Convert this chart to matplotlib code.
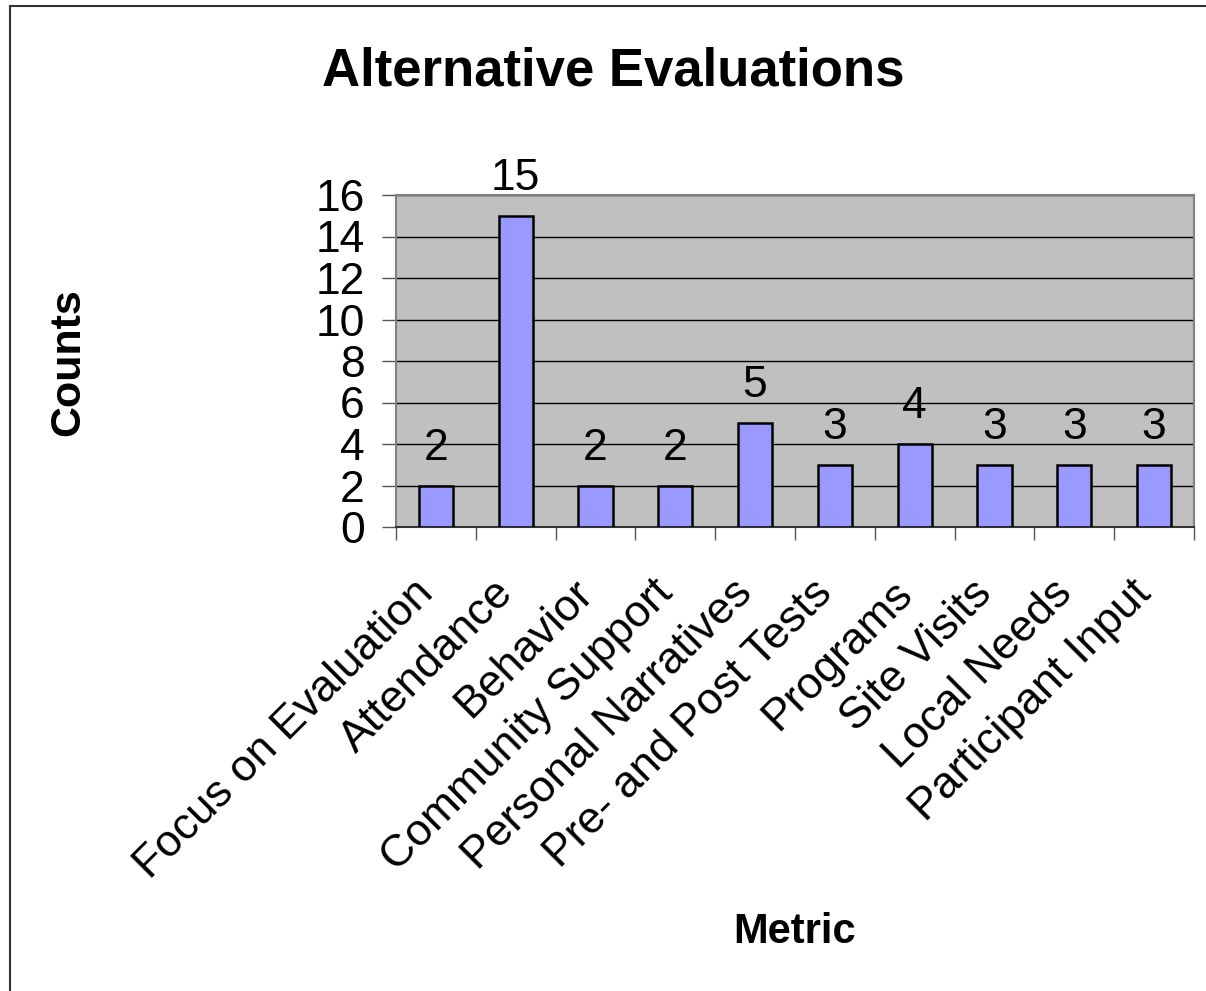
import matplotlib
matplotlib.use("Agg")
import matplotlib.pyplot as plt
from matplotlib.patches import Rectangle
from matplotlib.transforms import ScaledTranslation
import numpy as np

categories = ["Focus on Evaluation", "Attendance", "Behavior", "Community Support",
              "Personal Narratives", "Pre- and Post Tests", "Programs", "Site Visits",
              "Local Needs", "Participant Input"]
counts = [2, 15, 2, 2, 5, 3, 4, 3, 3, 3]
yticks = [0, 2, 4, 6, 8, 10, 12, 14, 16]

plt.rcParams['font.family'] = ['Liberation Sans', 'DejaVu Sans']

W, H = 1206, 991
fig = plt.figure(figsize=(W / 100, H / 100), dpi=100)
ax = fig.add_axes([396 / W, 1 - 527 / H, (1194 - 396) / W, (527 - 195) / H])

x = np.arange(len(categories))
ax.set_facecolor('#C0C0C0')
ax.set_axisbelow(True)
ax.yaxis.grid(True, color='black', linewidth=1.0)
ax.bar(x, counts, width=0.43, color='#9999FF', edgecolor='black', linewidth=1.8, zorder=3)

for xi, v in zip(x, counts):
    ax.text(xi, v + 1.25, str(v), ha='center', va='baseline', fontsize=32, zorder=4)

ax.set_xlim(-0.5, len(categories) - 0.5)
ax.set_ylim(0, 16)
ax.set_yticks(yticks)
ax.set_yticklabels([str(t) for t in yticks], fontsize=32)
ax.tick_params(axis='y', length=10, width=1.0, color='#555555', pad=12.5)

ax.set_xticks(x)
ax.set_xticklabels(categories, fontsize=32, rotation=45, ha='right', va='center',
                   rotation_mode='anchor')
ax.set_xticks(np.arange(-0.5, len(categories), 1.0), minor=True)
ax.tick_params(axis='x', which='major', length=0, pad=0)
ax.tick_params(axis='x', which='minor', length=9.5, width=1.0, color='#555555')
offset = ScaledTranslation(-9 / 100, -60 / 100, fig.dpi_scale_trans)
for lbl in ax.get_xticklabels():
    lbl.set_transform(lbl.get_transform() + offset)

for s in ['left', 'right', 'top', 'bottom']:
    ax.spines[s].set_color('#808080')
    ax.spines[s].set_linewidth(1.5)
ax.spines['bottom'].set_color('#333333')

fig.text(613 / W, 1 - 72 / H, "Alternative Evaluations", ha='center', va='center',
         fontsize=38, fontweight='bold')
fig.text(68 / W, 1 - 362 / H, "Counts", ha='center', va='center', rotation=90,
         fontsize=31, fontweight='bold')
fig.text(795 / W, 1 - 932 / H, "Metric", ha='center', va='center',
         fontsize=30, fontweight='bold')

fig.patches.append(Rectangle((10 / W, -0.1), 1.2, (1 - 6 / H) + 0.1,
                             transform=fig.transFigure, fill=False,
                             edgecolor='#333333', linewidth=1.5))

fig.savefig('out.png', dpi=100, facecolor='white')
